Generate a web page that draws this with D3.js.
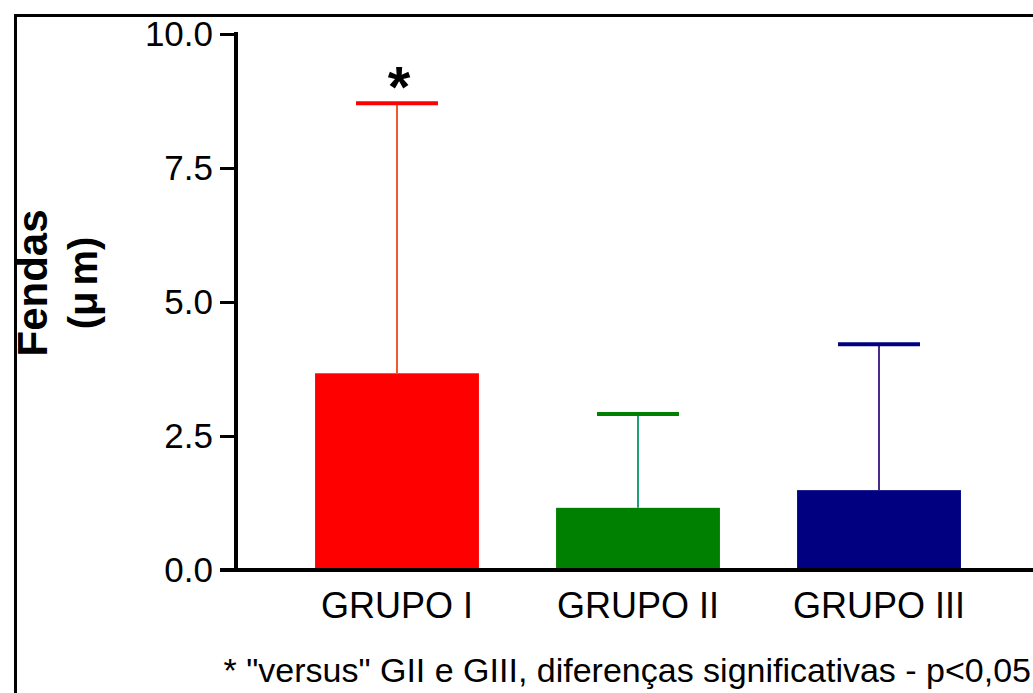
<!DOCTYPE html>
<html><head><meta charset="utf-8">
<script src="https://cdn.jsdelivr.net/npm/d3@7"></script>
<style>body{margin:0;background:#fff}svg{display:block}</style>
</head><body>
<svg id="c" width="1033" height="693"></svg>
<script>
const categories = ["GRUPO I", "GRUPO II", "GRUPO III"];
const means = [3.67, 1.16, 1.49];
const errTop = [8.71, 2.91, 4.21];
const barColors = ["#ff0000", "#008000", "#000080"];
const whiskerColors = ["#f05a28", "#20a070", "#4a2a8a"];
const yTicks = [0, 2.5, 5, 7.5, 10];
const marks = ["*", "", ""];
const footnote = '* "versus" GII e GIII, diferenças significativas - p<0,05';

const FF = "Liberation Sans, Arial, sans-serif";
const svg = d3.select("#c");
svg.append("rect").attr("x", 15.5).attr("y", 15.5).attr("width", 1040).attr("height", 700)
  .attr("fill", "none").attr("stroke", "#000").attr("stroke-width", 3);

const y = d3.scaleLinear().domain([0, 10]).range([570, 34]);
const x = d3.scaleBand().domain(categories).range([236, 1040]).paddingInner(0.32).paddingOuter(0.328);

const g = svg.append("g");
g.selectAll("rect.bar").data(categories).enter().append("rect")
  .attr("x", d => x(d)).attr("width", x.bandwidth())
  .attr("y", (d, i) => y(means[i])).attr("height", (d, i) => y(0) - y(means[i]))
  .attr("fill", (d, i) => barColors[i]);
g.selectAll("line.wh").data(categories).enter().append("line")
  .attr("x1", d => x(d) + x.bandwidth() / 2).attr("x2", d => x(d) + x.bandwidth() / 2)
  .attr("y1", (d, i) => y(means[i])).attr("y2", (d, i) => y(errTop[i]))
  .attr("stroke", (d, i) => whiskerColors[i]).attr("stroke-width", 2);
g.selectAll("line.cap").data(categories).enter().append("line")
  .attr("x1", d => x(d) + x.bandwidth() * 0.25).attr("x2", d => x(d) + x.bandwidth() * 0.75)
  .attr("y1", (d, i) => y(errTop[i])).attr("y2", (d, i) => y(errTop[i]))
  .attr("stroke", (d, i) => barColors[i]).attr("stroke-width", 4);
g.selectAll("text.mark").data(categories).enter().append("text")
  .attr("x", d => x(d) + x.bandwidth() / 2 + 2).attr("y", (d, i) => y(errTop[i]) + 4)
  .attr("text-anchor", "middle").attr("font-family", FF)
  .attr("font-size", 58).attr("font-weight", "bold").text((d, i) => marks[i]);

// y axis
const ya = svg.append("g").attr("transform", "translate(236,0)")
  .call(d3.axisLeft(y).tickValues(yTicks).tickFormat(d3.format(".1f")).tickSize(16).tickPadding(7));
ya.select(".domain").attr("stroke-width", 4).attr("d", "M0,32V572");
ya.selectAll(".tick line").attr("stroke-width", 3);
ya.selectAll(".tick text").attr("font-family", FF).attr("font-size", 35).attr("fill", "#000").attr("dy", "0.34em");

// x axis
const xa = svg.append("g").attr("transform", "translate(0,570)")
  .call(d3.axisBottom(x).tickSize(0).tickPadding(22));
xa.select(".domain").attr("stroke-width", 4).attr("d", "M220,0H1040");
xa.selectAll(".tick text").attr("font-family", FF).attr("font-size", 36).attr("fill", "#000");

// y title
const t = svg.append("g").attr("transform", "translate(0,283) rotate(-90)");
t.append("text").attr("x", 0).attr("y", 47).attr("text-anchor", "middle")
  .attr("font-family", FF).attr("font-size", 42).attr("font-weight", "bold").text("Fendas");
const t2 = t.append("text").attr("x", 0).attr("y", 97).attr("text-anchor", "middle")
  .attr("font-family", FF).attr("font-size", 40).attr("font-weight", "bold");
t2.append("tspan").text("(μ");
t2.append("tspan").attr("dx", 6).text("m)");

// footnote
svg.append("text").attr("x", 1031).attr("y", 682).attr("text-anchor", "end")
  .attr("font-family", FF).attr("font-size", 34).text(footnote);
</script>
</body></html>
